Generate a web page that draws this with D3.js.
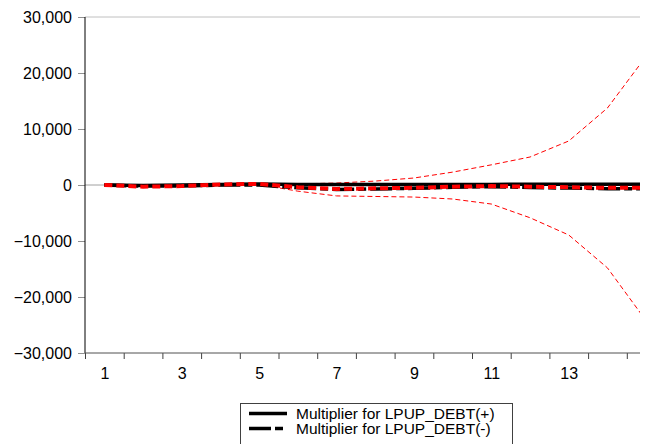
<!DOCTYPE html>
<html>
<head>
<meta charset="utf-8">
<script src="https://cdnjs.cloudflare.com/ajax/libs/d3/7.8.5/d3.min.js"></script>
<style>
  html, body { margin: 0; padding: 0; background: #fff; overflow: hidden; }
  svg { display: block; }
  text { font-family: "Liberation Sans", Arial, sans-serif; }
</style>
</head>
<body>
<svg id="chart" width="646" height="444"></svg>
<script>
// ---- data ----
const periods = [1,2,3,4,5,6,7,8,9,10,11,12,13,14,15];
const multPos   = [0, -100, 0, 100, 200, 100, 100, 100, 100, 100, 100, 150, 150, 150, 150];
const multNeg   = [0, -200, -200, 0, 0, -500, -800, -700, -600, -400, -300, -450, -550, -650, -650];
const asymmetry = [0, -300, -200, 100, 200, -400, -700, -600, -500, -300, -200, -300, -400, -500, -500];
const upperBand = [0, -100, 0, 150, 250, 200, 350, 700, 1250, 2300, 3600, 5000, 7860, 13750, 23000];
const lowerBand = [0, -300, -250, 0, 100, -1100, -1950, -2050, -2150, -2500, -3400, -5850, -8930, -14800, -24250];
const yTicks = [-30000, -20000, -10000, 0, 10000, 20000, 30000];
const xTickLabels = [1, 3, 5, 7, 9, 11, 13];
const legendLabels = [
  "Multiplier for LPUP_DEBT(+)",
  "Multiplier for LPUP_DEBT(-)"
];

(function () {
// ---- layout ----
const mLeft = 85, mTop = 17, mBottom = 353, plotRight = 640;
const step = 38.7;
const svg = d3.select("#chart");

const x = d3.scaleLinear().domain([0.5, 15.5]).range([mLeft, mLeft + 15 * step]);
const y = d3.scaleLinear().domain([-30000, 30000]).range([mBottom, mTop]);

svg.append("defs").append("clipPath").attr("id", "clip")
  .append("rect").attr("x", mLeft).attr("y", mTop - 2).attr("width", plotRight - mLeft).attr("height", mBottom - mTop + 4);

// top border and zero line
svg.append("line").attr("x1", mLeft).attr("x2", plotRight).attr("y1", y(30000)).attr("y2", y(30000))
  .attr("stroke", "#c0c0c0").attr("stroke-width", 1);
svg.append("line").attr("x1", mLeft).attr("x2", plotRight).attr("y1", y(0)).attr("y2", y(0))
  .attr("stroke", "#a0a0a0").attr("stroke-width", 1);

// y axis
const yAxis = d3.axisLeft(y).tickValues(yTicks).tickSize(7).tickPadding(6)
  .tickFormat(d3.format(","));
const gy = svg.append("g").attr("transform", `translate(${mLeft},0)`).call(yAxis);
gy.select(".domain").remove();
gy.selectAll(".tick line").attr("stroke", "#909090");
gy.selectAll("text").attr("font-size", 16).attr("fill", "#000");
svg.append("line").attr("x1", mLeft).attr("x2", mLeft).attr("y1", mTop).attr("y2", mBottom)
  .attr("stroke", "#000").attr("stroke-width", 1);

// x axis: ticks at category boundaries, labels at odd categories
const boundaries = d3.range(0, 15).map(k => k + 0.5);
const gxTicks = d3.axisBottom(x).tickValues(boundaries).tickSize(6).tickFormat("");
const gx = svg.append("g").attr("transform", `translate(0,${mBottom})`).call(gxTicks);
gx.select(".domain").remove();
gx.selectAll(".tick line").attr("stroke", "#404040");
svg.append("line").attr("x1", mLeft).attr("x2", plotRight).attr("y1", mBottom).attr("y2", mBottom)
  .attr("stroke", "#505050").attr("stroke-width", 1);
const gxLabels = d3.axisBottom(x).tickValues(xTickLabels).tickSize(0).tickPadding(15);
const gl = svg.append("g").attr("transform", `translate(0,${mBottom})`).call(gxLabels);
gl.select(".domain").remove();
gl.selectAll("text").attr("font-size", 16).attr("fill", "#000");

// lines
const line = d3.line().x((d, i) => x(periods[i])).y(d => y(d));
const plot = svg.append("g").attr("clip-path", "url(#clip)");
const series = [
  { data: upperBand, color: "#ff0000", width: 1, dash: "5,3" },
  { data: lowerBand, color: "#ff0000", width: 1, dash: "5,3" },
  { data: multPos, color: "#000", width: 3.5, dash: null },
  { data: multNeg, color: "#000", width: 3.5, dash: "22,4,8,4" },
  { data: asymmetry, color: "#ff0000", width: 4, dash: "8,4" }
];
series.forEach(s => {
  plot.append("path").attr("d", line(s.data)).attr("fill", "none")
    .attr("stroke", s.color).attr("stroke-width", s.width)
    .attr("stroke-dasharray", s.dash);
});

// legend (box runs past the bottom edge, as in the reference)
const lgX = 240, lgY = 403, lgW = 272, rowH = 15;
svg.append("rect").attr("x", lgX + 0.5).attr("y", lgY + 0.5).attr("width", lgW).attr("height", 60)
  .attr("fill", "#fff").attr("stroke", "#404040").attr("stroke-width", 1);
const legSeries = [series[2], series[3]];
legendLabels.forEach((lab, i) => {
  const cy = 413.5 + i * rowH;
  const g = svg.append("g");
  g.append("line").attr("x1", 249).attr("x2", 287).attr("y1", cy).attr("y2", cy)
    .attr("stroke", legSeries[i].color).attr("stroke-width", legSeries[i].width)
    .attr("stroke-dasharray", legSeries[i].dash);
  g.append("text").attr("x", 296).attr("y", cy).attr("dy", "0.35em")
    .attr("font-size", 15.5).attr("fill", "#000").text(lab);
});
})();
</script>
</body>
</html>
